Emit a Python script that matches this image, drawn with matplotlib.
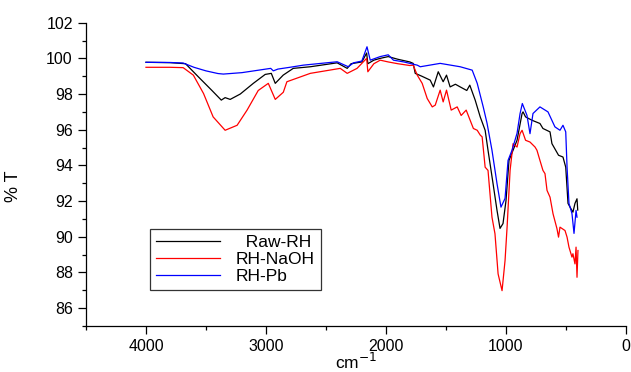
import matplotlib.pyplot as plt
from matplotlib.ticker import MultipleLocator

plt.rcParams["font.family"] = ["Liberation Sans", "DejaVu Sans"]

# wavenumber (cm-1) / %T
raw_wn = [4000, 3800, 3670, 3564, 3450, 3372, 3340, 3298, 3214, 3105, 3006, 2955,
          2922, 2856, 2772, 2630, 2406, 2322, 2290, 2200, 2160, 2150, 2100, 2047,
          1980, 1900, 1800, 1772, 1755, 1700, 1630, 1603, 1563, 1522, 1494, 1464,
          1420, 1380, 1325, 1300, 1255, 1213, 1172, 1148, 1106, 1073, 1048, 1023,
          998, 973, 906, 864, 856, 835, 781, 715, 690, 631, 615, 560, 523, 500, 481,
          464, 440, 423, 406, 400]
raw_t = [99.78, 99.76, 99.7, 98.97, 98.2, 97.66, 97.8, 97.7, 98.0, 98.6, 99.1, 99.16,
         98.6, 99.06, 99.44, 99.53, 99.75, 99.44, 99.7, 99.8, 100.3, 99.7, 99.9, 100.0,
         100.1, 99.95, 99.8, 99.72, 99.16, 99.0, 98.78, 98.4, 99.25, 98.69, 99.06, 98.4,
         98.55, 98.4, 98.2, 98.5, 97.66, 96.72, 95.97, 94.85, 92.98, 91.48, 90.47, 90.74,
         92.03, 94.28, 95.41, 96.91, 97.0, 96.72, 96.53, 96.35, 96.07, 95.88, 95.22, 94.57,
         94.47, 93.9, 91.87, 91.66, 91.38, 91.87, 92.13, 91.5]

naoh_wn = [4000, 3800, 3690, 3605, 3520, 3440, 3340, 3240, 3157, 3064, 2980, 2922,
           2855, 2825, 2630, 2380, 2322, 2240, 2160, 2150, 2100, 2047, 1980, 1900,
           1800, 1772, 1738, 1697, 1655, 1613, 1588, 1547, 1522, 1494, 1455, 1405,
           1372, 1330, 1297, 1270, 1238, 1213, 1197, 1172, 1148, 1115, 1090, 1064,
           1031, 1006, 989, 964, 939, 906, 881, 864, 835, 798, 756, 740, 715, 690,
           673, 656, 631, 606, 573, 560, 548, 506, 489, 473, 448, 440, 423, 414, 406,
           398]
naoh_t = [99.5, 99.5, 99.48, 99.06, 98.03, 96.72, 95.97, 96.25, 97.1, 98.2, 98.6, 97.7,
          98.1, 98.69, 99.16, 99.44, 99.16, 99.44, 100.0, 99.25, 99.7, 99.9, 99.8, 99.7,
          99.6, 99.62, 99.06, 98.6, 97.75, 97.28, 97.38, 98.22, 97.56, 98.22, 97.1, 97.28,
          96.8, 97.1, 96.53, 96.07, 95.97, 95.7, 95.6, 93.9, 93.72, 91.1, 90.17, 87.92,
          86.98, 88.67, 90.54, 93.72, 95.22, 95.03, 95.78, 95.97, 95.41, 95.31, 95.03,
          94.85, 94.28, 93.72, 93.54, 92.6, 92.22, 91.29, 90.45, 89.98, 90.54, 90.35,
          89.98, 89.42, 88.86, 89.05, 88.48, 89.42, 87.73, 89.23]

pb_wn = [4000, 3800, 3690, 3600, 3500, 3400, 3355, 3200, 3050, 2960, 2938, 2900,
         2800, 2688, 2406, 2313, 2270, 2200, 2157, 2130, 2047, 1980, 1937, 1850,
         1738, 1713, 1547, 1380, 1280, 1238, 1188, 1156, 1115, 1073, 1040, 1006,
         981, 948, 906, 881, 862, 823, 798, 773, 715, 648, 590, 548, 523, 500, 489,
         473, 448, 431, 414, 406]
pb_t = [99.78, 99.77, 99.74, 99.5, 99.3, 99.15, 99.12, 99.2, 99.35, 99.44, 99.3, 99.4,
        99.5, 99.62, 99.81, 99.53, 99.75, 99.85, 100.65, 99.9, 100.1, 100.2, 99.9, 99.8,
        99.62, 99.53, 99.72, 99.53, 99.34, 98.6, 97.28, 96.36, 94.85, 92.98, 91.66,
        92.15, 94.28, 94.85, 95.8, 96.9, 97.47, 96.8, 95.78, 96.91, 97.28, 97.0, 96.16,
        95.97, 96.25, 95.88, 93.9, 91.87, 91.3, 90.19, 91.48, 91.1]

fig = plt.figure(figsize=(6.31, 3.72), dpi=100)
ax = fig.add_axes([0.1363, 0.1237, 0.8553, 0.8153])

ax.plot(raw_wn, raw_t, color="black", lw=0.9, label="  Raw-RH")
ax.plot(naoh_wn, naoh_t, color="#ff0000", lw=0.9, label="RH-NaOH")
ax.plot(pb_wn, pb_t, color="#0000ff", lw=0.9, label="RH-Pb")

ax.set_xlim(4500, 0)
ax.set_ylim(85, 102)
ax.set_xticks([4000, 3000, 2000, 1000, 0])
ax.xaxis.set_minor_locator(MultipleLocator(500))
ax.set_yticks(range(86, 103, 2))
ax.yaxis.set_minor_locator(MultipleLocator(1))
ax.tick_params(which="major", direction="out", length=6, width=0.9, labelsize=11.5)
ax.tick_params(which="minor", direction="out", length=3, width=0.9)
ax.spines["top"].set_visible(False)
ax.spines["right"].set_visible(False)
for s in ("left", "bottom"):
    ax.spines[s].set_linewidth(0.9)

ax.set_ylabel("% T", fontsize=13)
ax.yaxis.set_label_coords(-0.118, 0.46)
ax.set_xlabel("cm$^{-1}$", fontsize=12.5)
ax.xaxis.set_label_coords(0.5, -0.085)

leg = ax.legend(loc="upper left", bbox_to_anchor=(0.1186, 0.321), fontsize=12.5,
                frameon=True, fancybox=False, edgecolor="black", handlelength=3.7,
                borderpad=0.35, labelspacing=0.12, handletextpad=0.9, borderaxespad=0)
leg.get_frame().set_linewidth(0.9)

fig.savefig("out.png", dpi=100, facecolor="white")
plt.close()
